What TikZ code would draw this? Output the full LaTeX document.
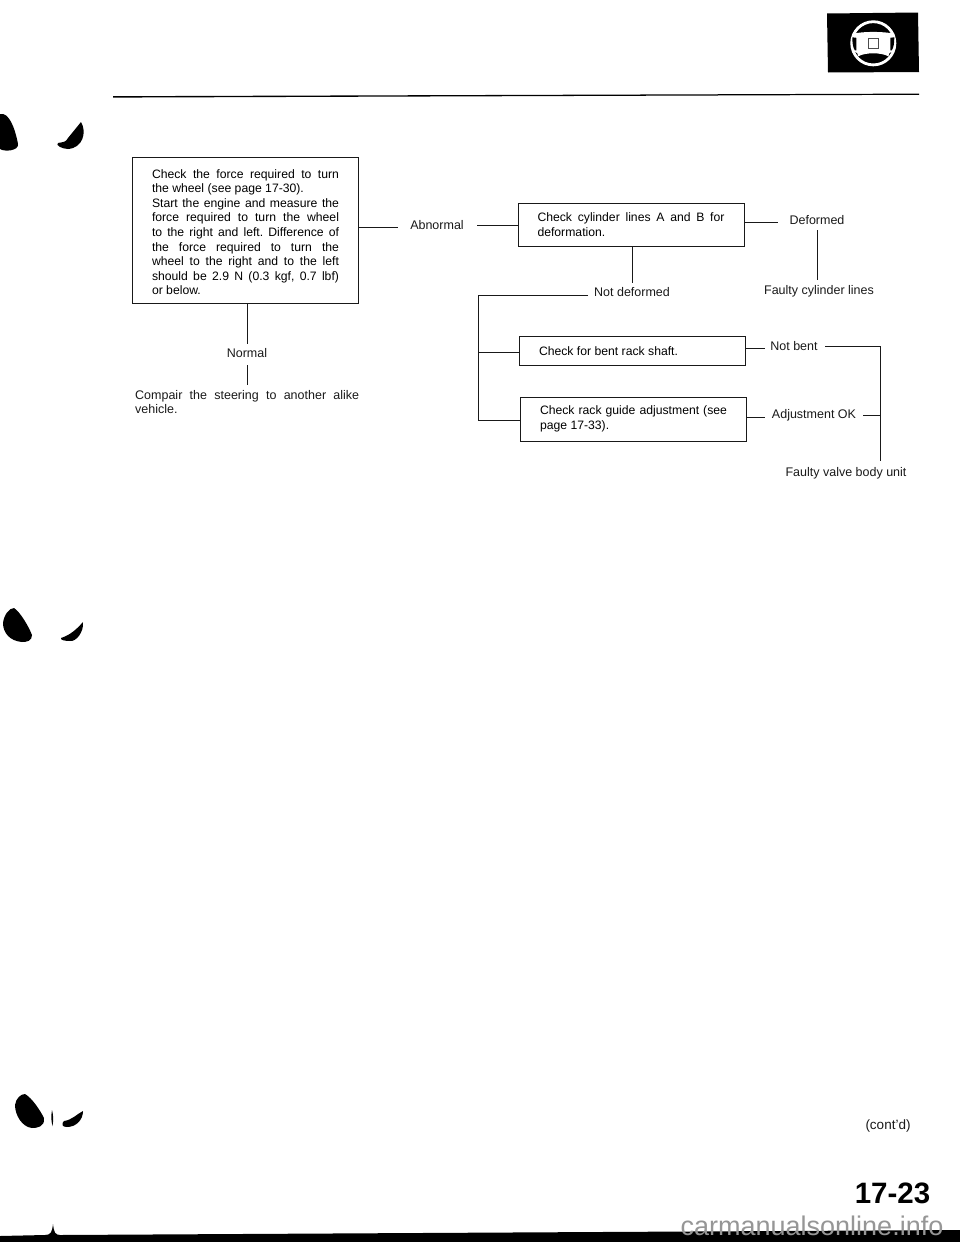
\documentclass[tikz,border=0pt]{standalone}
\usepackage{fontspec}
\setmainfont{Liberation Sans}
\usetikzlibrary{calc}
\definecolor{inkcol}{RGB}{25,25,25}
\definecolor{markcol}{RGB}{150,150,150}
\frenchspacing
\tikzset{
  chkbox/.style={draw=inkcol,line width=.9pt,fill=white,inner xsep=19.5pt,inner ysep=0pt,
                 text width=187pt,align=justify,font=\fontsize{12.2}{14.6}\selectfont},
  lbl/.style={inner sep=0pt,font=\fontsize{12.5}{14.6}\selectfont,text=inkcol},
  link/.style={draw=inkcol,line width=.9pt},
  blob/.style={fill=black,draw=none},
}
\begin{document}
\begin{tikzpicture}[x=1pt,y=-1pt]
  \useasboundingbox (0,0) rectangle (960,1242);
  % boxes
  \node[chkbox,minimum height=146pt] (force) at (245.5,230) {\rule{0pt}{13pt}Check the force required to turn\linebreak the wheel (see page 17-30).\\
    Start the engine and measure the\linebreak force required to turn the wheel\linebreak to the right and left. Difference of\linebreak the force required to turn the\linebreak wheel to the right and to the left\linebreak should be 2.9 N (0.3 kgf, 0.7 lbf)\linebreak or below.};
  \node[chkbox,minimum height=43pt] (cyl) at (631,224.5) {Check cylinder lines A and B for\linebreak deformation.};
  \node[chkbox,minimum height=29pt] (shaft) at (632.5,351) {Check for bent rack shaft.};
  \node[chkbox,minimum height=44pt] (guide) at (633.5,419) {Check rack guide adjustment (see\linebreak page 17-33).};
  % labels
  \node[lbl] (abn) at (437,225) {Abnormal};
  \node[lbl] (def) at (817,220) {Deformed};
  \node[lbl] (fcl) at (819,291) {Faulty cylinder lines};
  \node[lbl] (ndef) at (632,292.5) {Not deformed};
  \node[lbl] (nbent) at (794,346) {Not bent};
  \node[lbl] (adj) at (814,415) {Adjustment OK};
  \node[lbl] (fvb) at (846,473) {Faulty valve body unit};
  \node[lbl] (norm) at (247,353) {Normal};
  \node[lbl,anchor=north west,text width=224pt,align=justify] (comp) at (135,390) {Compair the steering to another alike\linebreak vehicle.};
  \coordinate (bus) at (478,295);
  \coordinate (riser) at (880,346);
  % connectors
  \draw[link] (force.east |- 0,227) -- (398,227);
  \draw[link] (477,225) -- (cyl.west |- 0,225);
  \draw[link] (cyl.east |- 0,222) -- (778,222);
  \draw[link] (817,230) -- (817,280);
  \draw[link] (cyl.south -| 632,0) -- (632,283);
  \draw[link] (588,295) -- (bus) -- (478,420) -- (guide.west |- 0,420);
  \draw[link] (478,352) -- (shaft.west |- 0,352);
  \draw[link] (shaft.east |- 0,348) -- (765,348);
  \draw[link] (guide.east |- 0,417) -- (765,417);
  \draw[link] (825,346) -- (riser) -- (880,461);
  \draw[link] (863,415) -- (880,415);
  \draw[link] (force.south -| 247,0) -- (247,344);
  \draw[link] (247,365) -- (247,385);
  % head rule and steering wheel tab
  \fill[black] (113,96.2) -- (919,93.6) -- (919,94.8) -- (113,97.6) -- cycle;
  \fill[black] (827,13.5) -- (918,12.5) -- (919,72) -- (828,72.5) -- cycle;
  \begin{scope}[shift={(873.3,43.3)}]
    \draw[white,line width=2.8pt] (0,0) circle (21.6);
    \fill[white] (-21,-9.5) .. controls (-10,-12) and (10,-12) .. (21,-9.5) -- (21,8)
      .. controls (16,9) and (15,10) .. (15,13) .. controls (8,9) and (-8,9) .. (-15,13)
      .. controls (-15,10) and (-16,9) .. (-21,8) -- cycle;
    \fill[black] (-21,-6) -- (-17,-5.5) -- (-17,7) -- (-18.5,7) .. controls (-20.5,4) and (-21,-1) .. (-21,-6) -- cycle;
    \fill[black] (21,-6) -- (17,-5.5) -- (17,7) -- (18.5,7) .. controls (20.5,4) and (21,-1) .. (21,-6) -- cycle;
    \draw[black!70,line width=1.2pt] (-5,-4.5) rectangle (5,5);
  \end{scope}
  % binding marks
  \fill[blob] (0,114) .. controls (9,112) and (15,128) .. (18,144) .. controls (19,151) and (4,152) .. (0,149) -- cycle;
  \fill[blob] (81,122) .. controls (87,132) and (83,148) .. (68,149) .. controls (62,149) and (55,145) .. (58,143) .. controls (64,142) and (66,142) .. (68,138) -- cycle;
  \fill[blob] (14,608) .. controls (20,612) and (28,625) .. (32,635) .. controls (32,641) and (27,642) .. (22,642) .. controls (10,641) and (3,633) .. (3,623) .. controls (4,615) and (9,608) .. (14,608) -- cycle;
  \fill[blob] (83,622) .. controls (84,632) and (76,642) .. (70,641) .. controls (65,641) and (60,640) .. (61,638) .. controls (70,635) and (76,630) .. (83,622) -- cycle;
  \fill[blob] (25,1094) .. controls (32,1098) and (40,1110) .. (44,1118) .. controls (45,1127) and (37,1128) .. (32,1128) .. controls (22,1127) and (15,1115) .. (15,1105) .. controls (16,1098) and (21,1094) .. (25,1094) -- cycle;
  \fill[blob] (52,1110) .. controls (53.5,1116) and (53.5,1120) .. (52.5,1126) .. controls (51,1120) and (51,1116) .. (52,1110) -- cycle;
  \fill[blob] (83,1111) .. controls (83,1120) and (76,1127) .. (67,1127) .. controls (62,1127) and (61,1124) .. (64,1121) .. controls (72,1120) and (77,1114) .. (83,1111) -- cycle;
  % bottom edge
  \fill[black] (0,1236) -- (45,1235) .. controls (51,1235) and (52,1232) .. (53,1224) .. controls (54,1232) and (55,1235) .. (60,1235) -- (960,1230) -- (960,1242) -- (0,1242) -- cycle;
  \node[lbl,font=\fontsize{13.5}{14}\selectfont] (contd) at (888,1126) {(cont'd)};
  \node[lbl,font=\fontsize{29.5}{30}\bfseries\selectfont,text=black] (pagenum) at (892.5,1193) {17-23};
  \node[lbl,font=\fontsize{27}{28}\selectfont,text=markcol] (mark) at (812,1226) {carmanualsonline.info};
\end{tikzpicture}
\end{document}
